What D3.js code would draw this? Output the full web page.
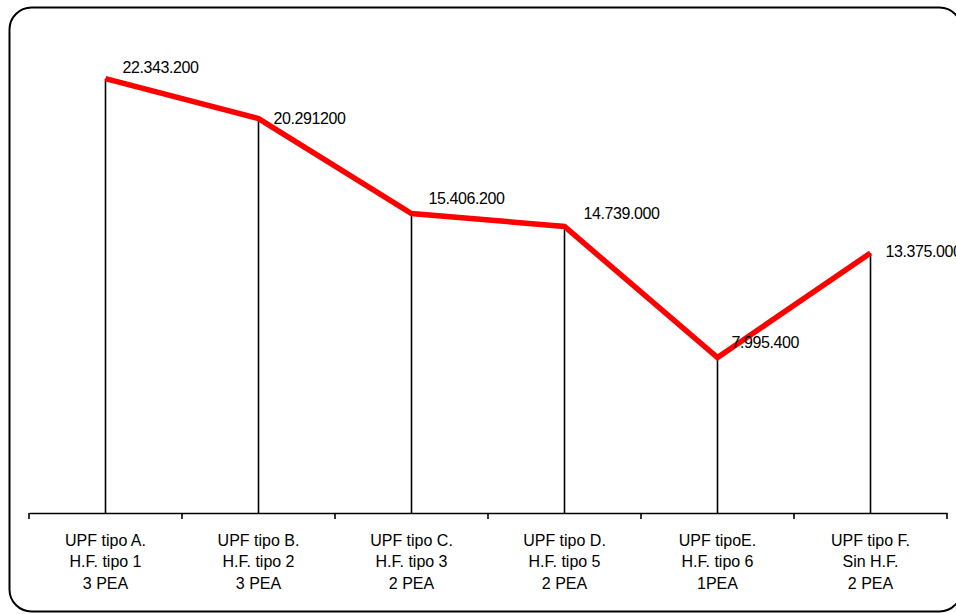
<!DOCTYPE html>
<html><head><meta charset="utf-8">
<script src="https://cdn.jsdelivr.net/npm/d3@7"></script>
<style>html,body{margin:0;padding:0;background:#fff;overflow:hidden}svg{display:block}</style>
</head><body>
<svg id="c" width="956" height="614"></svg>
<script>
const categories = [
  ["UPF tipo A.", "H.F. tipo 1", "3 PEA"],
  ["UPF tipo B.", "H.F. tipo 2", "3 PEA"],
  ["UPF tipo C.", "H.F. tipo 3", "2 PEA"],
  ["UPF tipo D.", "H.F. tipo 5", "2 PEA"],
  ["UPF tipoE.", "H.F. tipo 6", "1PEA"],
  ["UPF tipo F.", "Sin H.F.", "2 PEA"]
];
const values = [22343200, 20291200, 15406200, 14739000, 7995400, 13375000];
const valueLabels = ["22.343.200", "20.291200", "15.406.200", "14.739.000", "7.995.400", "13.375.000"];
const labelNudge = [[17, -11], [15, 0], [17, -15], [19, -13], [14, -15], [15, -2]];

const svg = d3.select("#c");
svg.append("rect").attr("x", 9.5).attr("y", 7.5).attr("width", 952).attr("height", 604)
  .attr("rx", 22).attr("ry", 22).attr("fill", "#fff").attr("stroke", "#000").attr("stroke-width", 2);

const x = d3.scaleBand().domain(d3.range(categories.length)).range([29, 947]).padding(0);
const y = d3.scaleLinear().domain([0, 25000000]).range([513, 27]);
const cx = i => x(i) + x.bandwidth() / 2;

// drop lines
svg.append("g").selectAll("line").data(values).join("line")
  .attr("x1", (d, i) => cx(i)).attr("x2", (d, i) => cx(i))
  .attr("y1", d => y(d)).attr("y2", y(0))
  .attr("stroke", "#000").attr("stroke-width", 1.6);

// axis
const axis = d3.axisBottom(x).tickSize(0).tickFormat("");
const ag = svg.append("g").attr("transform", `translate(0,${y(0)})`).call(axis);
ag.select(".domain").attr("stroke", "#000").attr("stroke-width", 1.6);
const bounds = d3.range(categories.length + 1).map(i => i < categories.length ? x(i) : x(i - 1) + x.bandwidth());
ag.selectAll(".bt").data(bounds).join("line").attr("class", "bt")
  .attr("x1", d => d).attr("x2", d => d).attr("y1", 0).attr("y2", 6)
  .attr("stroke", "#000").attr("stroke-width", 1.6);

// category labels
const lab = svg.append("g").attr("font-family", "Liberation Sans, Arial, sans-serif")
  .attr("font-size", 16).attr("fill", "#000").attr("text-anchor", "middle");
categories.forEach((lines, i) => {
  lines.forEach((t, j) => {
    lab.append("text").attr("x", cx(i)).attr("y", 546 + j * 21.3).text(t);
  });
});

// line
const line = d3.line().x((d, i) => cx(i)).y(d => y(d));
svg.append("path").datum(values).attr("d", line).attr("fill", "none")
  .attr("stroke", "#ff0000").attr("stroke-width", 5.5).attr("stroke-linejoin", "miter");

// value labels
svg.append("g").attr("font-family", "Liberation Sans, Arial, sans-serif").attr("font-size", 16)
  .attr("letter-spacing", "-0.4")
  .selectAll("text").data(values).join("text")
  .attr("x", (d, i) => cx(i) + labelNudge[i][0])
  .attr("y", (d, i) => y(d) + labelNudge[i][1])
  .attr("dy", "0.35em")
  .text((d, i) => valueLabels[i]);
</script>
</body></html>
